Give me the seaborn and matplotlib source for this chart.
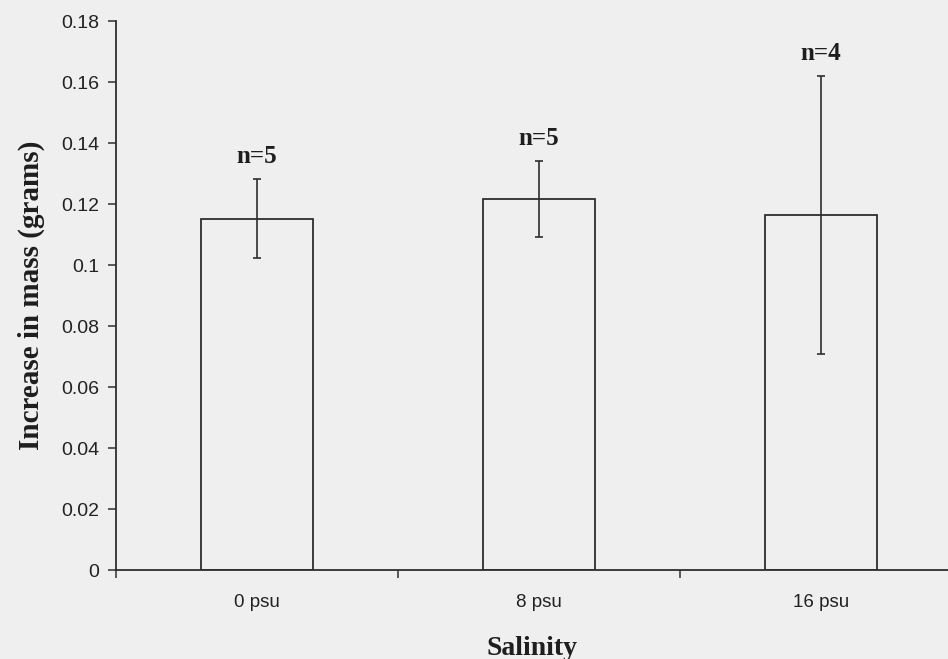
import pandas as pd
import matplotlib.pyplot as plt
import seaborn as sns

salinity = ["0 psu", "8 psu", "16 psu"]
mass_gain = [0.1152, 0.1217, 0.1165]
std_err = [0.0130, 0.0124, 0.0455]
n_labels = ["n=5", "n=5", "n=4"]

df = pd.DataFrame({"Salinity": salinity, "Gain": mass_gain})

sns.set_style("ticks")
plt.rcParams["font.family"] = ["Liberation Sans", "DejaVu Sans"]

bg = "#efefef"
ink = "#2e2e2e"

fig = plt.figure(figsize=(9.48, 6.59), dpi=100, facecolor=bg)
ax = fig.add_axes([0.1224, 0.135, 0.8776, 0.833])
ax.set_facecolor(bg)

sns.barplot(data=df, x="Salinity", y="Gain", order=salinity, width=0.4,
            color=bg, edgecolor=ink, linewidth=1.3, errorbar=None, ax=ax)

centers = [p.get_x() + p.get_width() / 2 for p in ax.patches]
ax.errorbar(centers, mass_gain, yerr=std_err, fmt="none", ecolor=ink,
            elinewidth=1.2, capsize=3, capthick=1.2)

for xc, top, lab in zip(centers, [m + e for m, e in zip(mass_gain, std_err)], n_labels):
    ax.annotate(lab, (xc, top), xytext=(0, 8), textcoords="offset points",
                ha="center", va="bottom", fontsize=18, fontweight="bold",
                family="Liberation Serif", color="#1e1e1e")

ax.set_xlim(-0.5, 2.45)
ax.set_ylim(0, 0.18)
ax.set_yticks([0, 0.02, 0.04, 0.06, 0.08, 0.1, 0.12, 0.14, 0.16, 0.18])
ax.set_yticklabels(["0", "0.02", "0.04", "0.06", "0.08", "0.1", "0.12",
                    "0.14", "0.16", "0.18"], fontsize=14, color="#222222")
ax.tick_params(axis="y", length=6, width=1.1, color=ink, pad=6)

# category labels without ticks; ticks sit between categories
ax.tick_params(axis="x", which="major", length=0, labelsize=13.5, pad=17,
               labelcolor="#222222")
ax.set_xticks([-0.5, 0.5, 1.5], minor=True)
ax.tick_params(axis="x", which="minor", length=6, width=1.1, color=ink)

ax.set_xlabel("Salinity", fontsize=20, fontweight="bold",
              family="Liberation Serif", labelpad=18, color="#1e1e1e")
ax.set_ylabel("Increase in mass (grams)", fontsize=21, fontweight="bold",
              family="Liberation Serif", labelpad=12, color="#1e1e1e")

sns.despine(ax=ax)
for s in ["left", "bottom"]:
    ax.spines[s].set_color(ink)
    ax.spines[s].set_linewidth(1.3)

plt.savefig("out.png", dpi=100, facecolor=bg)
plt.close()
